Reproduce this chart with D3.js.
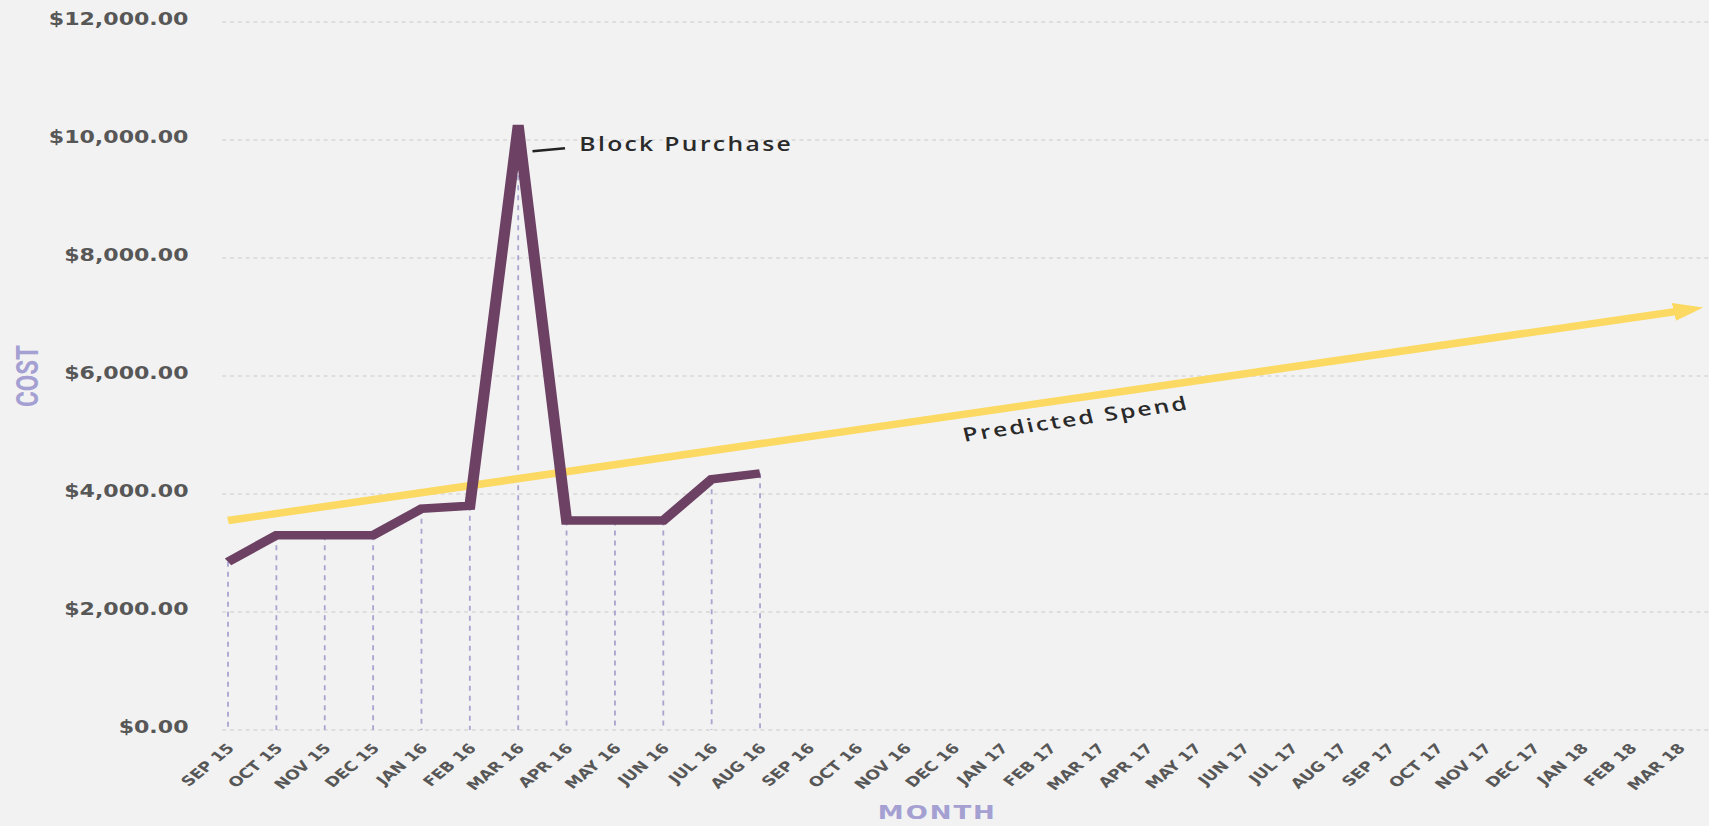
<!DOCTYPE html>
<html>
<head>
<meta charset="utf-8">
<script src="https://cdn.jsdelivr.net/npm/d3@7"></script>
<style>
  body { margin: 0; background: #f2f2f2; overflow: hidden; }
</style>
</head>
<body>
<svg id="cost-chart" width="1709" height="826"></svg>
<script>
// Data
const months = ["SEP 15", "OCT 15", "NOV 15", "DEC 15", "JAN 16", "FEB 16", "MAR 16", "APR 16",
  "MAY 16", "JUN 16", "JUL 16", "AUG 16", "SEP 16", "OCT 16", "NOV 16", "DEC 16", "JAN 17",
  "FEB 17", "MAR 17", "APR 17", "MAY 17", "JUN 17", "JUL 17", "AUG 17", "SEP 17", "OCT 17",
  "NOV 17", "DEC 17", "JAN 18", "FEB 18", "MAR 18"]
const actualMonths = months.slice(0, 12)
const actualCost = [2850, 3300, 3300, 3300, 3750, 3800, 10250, 3550, 3550, 3550, 4250, 4350]
const predictedMonths = ["SEP 15", "MAR 18"]
const predictedSpend = [3550, 7100]
const yTicks = [0, 2000, 4000, 6000, 8000, 10000, 12000]

// the picture is stretched sideways, so draw in a narrower box and let the viewBox widen it
const stretch = 1.3
const W = 1709 / stretch, H = 826

const svg = d3.select("#cost-chart")
  .attr("viewBox", `0 0 ${W} ${H}`)
  .attr("preserveAspectRatio", "none")

const x = d3.scalePoint()
  .domain(months)
  .range([175.4, 1291.5])

const y = d3.scaleLinear()
  .domain([0, 12000])
  .range([730, 22])

// horizontal grid
svg.append("g")
  .selectAll("line")
  .data(yTicks)
  .join("line")
  .attr("x1", 171)
  .attr("x2", W)
  .attr("y1", d => y(d))
  .attr("y2", d => y(d))
  .attr("stroke", "#cacaca")
  .attr("stroke-width", 1)
  .attr("stroke-dasharray", "3,3")

// y axis labels
const yAxis = svg.append("g")
  .attr("transform", "translate(145,-3)")
  .call(d3.axisLeft(y).tickValues(yTicks).tickFormat(d3.format("$,.2f")).tickSize(0).tickPadding(0))
yAxis.select(".domain").remove()
yAxis.selectAll("text")
  .attr("font-family", "'DejaVu Sans', Verdana, sans-serif")
  .attr("font-weight", "bold")
  .attr("font-size", 17)
  .attr("fill", "#575757")

// x axis labels
const xAxis = svg.append("g")
  .attr("transform", `translate(0,${y(0)})`)
  .call(d3.axisBottom(x).tickSize(0).tickPadding(0))
xAxis.select(".domain").remove()
xAxis.selectAll("text")
  .attr("y", 0)
  .attr("dy", 0)
  .attr("text-anchor", "end")
  .attr("transform", "translate(5,19) rotate(-47)")
  .attr("font-family", "'DejaVu Sans', Verdana, sans-serif")
  .attr("font-weight", "bold")
  .attr("font-size", 13.5)
  .attr("fill", "#575757")

// dashed drop lines from each actual point
svg.append("g")
  .selectAll("line")
  .data(actualCost)
  .join("line")
  .attr("x1", (d, i) => x(actualMonths[i]))
  .attr("x2", (d, i) => x(actualMonths[i]))
  .attr("y1", d => y(d))
  .attr("y2", y(0))
  .attr("stroke", "#a9a5cf")
  .attr("stroke-width", 1.4)
  .attr("stroke-dasharray", "5,5")

// arrow head for prediction
svg.append("defs").append("marker")
  .attr("id", "arrow")
  .attr("markerUnits", "userSpaceOnUse")
  .attr("viewBox", "0 -10 24 20")
  .attr("refX", 4)
  .attr("refY", 0)
  .attr("markerWidth", 24)
  .attr("markerHeight", 20)
  .attr("orient", "auto")
  .append("path")
  .attr("d", "M0,-9L23,0L0,9Z")
  .attr("fill", "#fbd962")

// predicted spend line
const predictedLine = d3.line()
  .x((d, i) => x(predictedMonths[i]))
  .y(d => y(d))

svg.append("path")
  .datum(predictedSpend)
  .attr("d", predictedLine)
  .attr("fill", "none")
  .attr("stroke", "#fbd962")
  .attr("stroke-width", 7.5)
  .attr("marker-end", "url(#arrow)")

// actual cost line
const costLine = d3.line()
  .x((d, i) => x(actualMonths[i]))
  .y(d => y(d))

svg.append("path")
  .datum(actualCost)
  .attr("d", costLine)
  .attr("fill", "none")
  .attr("stroke", "#6c4163")
  .attr("stroke-width", 8.5)

// annotations
const peakX = x("MAR 16"), peakY = y(actualCost[6])
svg.append("line")
  .attr("x1", peakX + 11)
  .attr("y1", peakY + 26)
  .attr("x2", peakX + 36)
  .attr("y2", peakY + 23)
  .attr("stroke", "#222")
  .attr("stroke-width", 2.5)

svg.append("text")
  .attr("x", peakX + 47)
  .attr("y", peakY + 26)
  .attr("font-family", "'Open Sans', sans-serif")
  .attr("font-weight", 600)
  .attr("font-size", 19)
  .attr("letter-spacing", 1.8)
  .attr("fill", "#2a2a2a")
  .text("Block Purchase")

const p0 = [x(predictedMonths[0]), y(predictedSpend[0])]
const p1 = [x(predictedMonths[1]), y(predictedSpend[1])]
const angle = Math.atan2(p1[1] - p0[1], p1[0] - p0[0]) * 180 / Math.PI
const t = (737 - p0[0]) / (p1[0] - p0[0])
svg.append("text")
  .attr("transform", `translate(${p0[0] + t * (p1[0] - p0[0])},${p0[1] + t * (p1[1] - p0[1])}) rotate(${angle})`)
  .attr("x", 0)
  .attr("y", 27)
  .attr("font-family", "'Open Sans', sans-serif")
  .attr("font-weight", 600)
  .attr("font-size", 19)
  .attr("letter-spacing", 1.8)
  .attr("fill", "#2a2a2a")
  .text("Predicted Spend")

// axis titles
svg.append("text")
  .attr("transform", `translate(29,${y(6000)}) rotate(-90)`)
  .attr("text-anchor", "middle")
  .attr("font-family", "'Liberation Sans Narrow', Roboto, sans-serif")
  .attr("font-weight", "bold")
  .attr("font-size", 24)
  .attr("fill", "#a4a0d2")
  .text("COST")

svg.append("text")
  .attr("x", 721)
  .attr("y", 819)
  .attr("text-anchor", "middle")
  .attr("font-family", "'DejaVu Sans', Verdana, sans-serif")
  .attr("font-weight", "bold")
  .attr("font-size", 20)
  .attr("letter-spacing", 1.5)
  .attr("fill", "#a4a0d2")
  .text("MONTH")
</script>
</body>
</html>
